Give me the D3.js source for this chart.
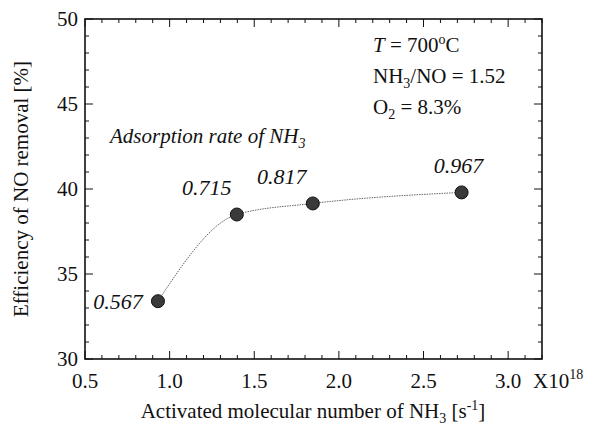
<!DOCTYPE html>
<html><head><meta charset="utf-8">
<script src="https://cdn.jsdelivr.net/npm/d3@7"></script>
<style>svg, svg text, svg tspan { font-family: "Liberation Serif" !important; }</style>
</head><body style="margin:0;background:#fff"><svg id="c" width="595" height="430" style="font-family:'Liberation Serif'"></svg>
<script>
const xValues = [0.931, 1.397, 1.846, 2.725];
const yValues = [33.4, 38.5, 39.15, 39.8];
const rateLabels = ["0.567", "0.715", "0.817", "0.967"];
const xTicks = [0.5, 1.0, 1.5, 2.0, 2.5, 3.0];
const yTicks = [30, 35, 40, 45, 50];

const FONT = "Liberation Serif";
const svg = d3.select("#c");
function txt(sel) {
  const t = sel.append("text").attr("fill", "#111");
  t.node().style.setProperty("font-family", FONT, "important");
  return t;
}
const L = 85, R = 542, T = 19, B = 359;
const x = d3.scaleLinear().domain([0.5, 3.2]).range([L, R]);
const y = d3.scaleLinear().domain([30, 50]).range([B, T]);

const g = svg.append("g");
const xMinor = d3.range(0.5, 3.2001, 0.1);
const yMinor = d3.range(30, 50.001, 1);
xMinor.forEach(v => {
  const major = Math.abs(v * 2 - Math.round(v * 2)) < 1e-6;
  const len = major ? 8 : 4;
  g.append("line").attr("x1", x(v)).attr("x2", x(v)).attr("y1", B).attr("y2", B - len).attr("stroke", "#111").attr("stroke-width", 1);
  g.append("line").attr("x1", x(v)).attr("x2", x(v)).attr("y1", T).attr("y2", T + len).attr("stroke", "#111").attr("stroke-width", 1);
});
yMinor.forEach(v => {
  const major = Math.round(v) % 5 === 0;
  const len = major ? 8 : 4;
  g.append("line").attr("y1", y(v)).attr("y2", y(v)).attr("x1", L).attr("x2", L + len).attr("stroke", "#111").attr("stroke-width", 1);
  g.append("line").attr("y1", y(v)).attr("y2", y(v)).attr("x1", R).attr("x2", R - len).attr("stroke", "#111").attr("stroke-width", 1);
});
g.append("rect").attr("x", L).attr("y", T).attr("width", R - L).attr("height", B - T)
  .attr("fill", "none").attr("stroke", "#111").attr("stroke-width", 1.6);

xTicks.forEach(v => {
  txt(svg).attr("x", x(v)).attr("y", 388).attr("text-anchor", "middle")
    .attr("font-size", 21).text(v.toFixed(1));
});
yTicks.forEach(v => {
  txt(svg).attr("x", 78).attr("y", y(v) + 7).attr("text-anchor", "end")
    .attr("font-size", 21).text(v);
});
const xm = txt(svg).attr("x", 533).attr("y", 388).attr("font-size", 21);
xm.append("tspan").text("X10");
xm.append("tspan").attr("font-size", 14).attr("dy", -9).text("18");

const xt = txt(svg).attr("x", 313).attr("y", 418).attr("text-anchor", "middle").attr("font-size", 21);
xt.append("tspan").text("Activated molecular number of NH");
xt.append("tspan").attr("font-size", 14).attr("dy", 5).text("3");
xt.append("tspan").attr("dy", -5).text(" [s");
xt.append("tspan").attr("font-size", 14).attr("dy", -8).text("-1");
xt.append("tspan").attr("dy", 8).text("]");

txt(svg).attr("transform", "translate(28,189) rotate(-90)").attr("text-anchor", "middle")
  .attr("font-size", 21).text("Efficiency of NO removal [%]");

const pts = xValues.map((v, i) => [v, yValues[i]]);
svg.append("path").attr("d", d3.line().x(d => x(d[0])).y(d => y(d[1])).curve(d3.curveMonotoneX)(pts))
  .attr("fill", "none").attr("stroke", "#555").attr("stroke-width", 0.9).attr("stroke-dasharray", "1.5,1");

svg.selectAll("circle.pt").data(pts).enter().append("circle")
  .attr("cx", d => x(d[0])).attr("cy", d => y(d[1])).attr("r", 6.5)
  .attr("fill", "#3a3a3a").attr("stroke", "#111").attr("stroke-width", 1);

const labOff = [[-40, 8], [-30, -20], [-31, -19], [-3, -19]];
rateLabels.forEach((t, i) => {
  txt(svg).attr("x", x(xValues[i]) + labOff[i][0]).attr("y", y(yValues[i]) + labOff[i][1])
    .attr("text-anchor", "middle").attr("font-size", 22).attr("font-style", "italic").text(t);
});

const ad = txt(svg).attr("x", 110).attr("y", 143).attr("font-size", 21).attr("font-style", "italic");
ad.append("tspan").text("Adsorption rate of NH");
ad.append("tspan").attr("font-size", 14).attr("dy", 5).text("3");

const c1 = txt(svg).attr("x", 373).attr("y", 52).attr("font-size", 21);
c1.append("tspan").attr("font-style", "italic").text("T");
c1.append("tspan").text(" = 700");
c1.append("tspan").attr("font-size", 14).attr("dy", -8).text("o");
c1.append("tspan").attr("dy", 8).text("C");
const c2 = txt(svg).attr("x", 373).attr("y", 83).attr("font-size", 21);
c2.append("tspan").text("NH");
c2.append("tspan").attr("font-size", 14).attr("dy", 5).text("3");
c2.append("tspan").attr("dy", -5).text("/NO = 1.52");
const c3 = txt(svg).attr("x", 373).attr("y", 114).attr("font-size", 21);
c3.append("tspan").text("O");
c3.append("tspan").attr("font-size", 14).attr("dy", 5).text("2");
c3.append("tspan").attr("dy", -5).text(" = 8.3%");
</script></body></html>
